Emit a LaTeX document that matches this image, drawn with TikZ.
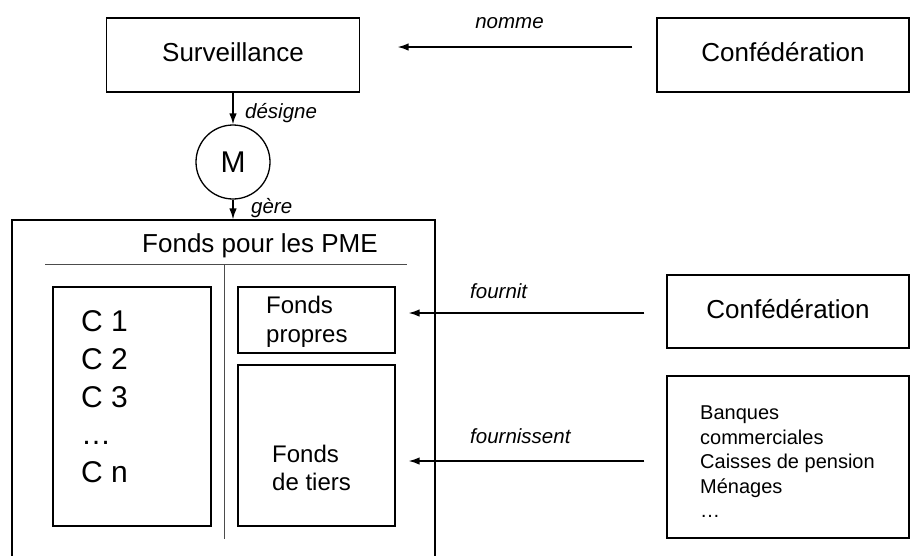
\documentclass[tikz,border=0pt]{standalone}
\usepackage{fontspec}
\setmainfont{Liberation Sans}
\usetikzlibrary{arrows.meta}

\tikzset{
  box/.style={draw, rectangle, line width=1.3pt, inner sep=0pt},
  arr/.style={-{Latex[length=11pt,width=7.5pt]}, line width=1.4pt},
  verb/.style={font=\fontsize{20.5}{24}\selectfont\itshape, inner sep=0pt},
  big/.style={font=\fontsize{26}{31}\selectfont, text height=19pt, text depth=6pt},
  list/.style={inner sep=0pt, align=left, anchor=north west},
}

\begin{document}
\begin{tikzpicture}[x=1pt,y=-1pt]
\useasboundingbox (0,0) rectangle (910,555);
% top row
\node[box, big, minimum width=253pt, minimum height=74pt] (surv) at (233,55) {Surveillance};
\node[box, big, minimum width=252pt, minimum height=74pt] (conf1) at (783,55) {Confédération};
\node[draw, circle, line width=1.3pt, minimum size=74pt, inner sep=0pt, font=\fontsize{30}{36}\selectfont] (mgr) at (233,162) {M};
% fund
\node[box, minimum width=423pt, minimum height=350pt] (fonds) at (223.5,395) {};
\node[anchor=base, inner sep=0pt, font=\fontsize{26}{31}\selectfont] (titre) at (260,252) {Fonds pour les PME};
\draw[line width=0.9pt, gray!60!black] (45,264) -- (407,264);
\draw[line width=0.9pt, gray!60!black] (224,264) -- (224,539);
% inner boxes
\node[box, minimum width=158pt, minimum height=239pt] (cbox) at (132,406.5) {};
\node[box, minimum width=157pt, minimum height=66pt] (propres) at (316.5,320) {};
\node[box, minimum width=157pt, minimum height=161pt] (tiers) at (316.5,445.5) {};
\node[list, font=\fontsize{30}{37.7}\selectfont] (clist) at (81,310.5) {C 1\\C 2\\C 3\\…\\C n};
\node[list, font=\fontsize{24}{29}\selectfont] (lpropres) at (266,295.5) {Fonds\\propres};
\node[list, font=\fontsize{24}{28.5}\selectfont] (ltiers) at (272,444.5) {Fonds\\de tiers};
% right boxes
\node[box, big, minimum width=242pt, minimum height=73pt] (conf2) at (788,311.5) {Confédération};
\node[box, minimum width=242pt, minimum height=162pt] (banks) at (788,457) {};
\node[list, font=\fontsize{20}{24.5}\selectfont] (lbanks) at (700,405.7) {Banques\\commerciales\\Caisses de pension\\Ménages\\…};
% arrows
\draw[arr, shorten <=24pt, shorten >=37.5pt] ([yshift=8pt]conf1.west) -- ([yshift=8pt]surv.east);
\draw[arr] (surv.south) -- (mgr.north);
\draw[arr] (mgr.south) -- (mgr.south |- fonds.north);
\draw[arr, shorten <=22pt, shorten >=13pt] ([yshift=-1.5pt]conf2.west) -- ([yshift=-1.5pt]conf2.west -| propres.east);
\draw[arr, shorten <=22pt, shorten >=13pt] ([yshift=-4pt]banks.west) -- ([yshift=-4pt]banks.west -| tiers.east);
% arrow labels
\node[verb, anchor=base] (lnomme) at (509.5,28) {nomme};
\node[verb, anchor=base west] (ldesigne) at (245,118) {désigne};
\node[verb, anchor=base west] (lgere) at (251,213) {gère};
\node[verb, anchor=base west] (lfournit) at (470,298) {fournit};
\node[verb, anchor=base west] (lfournissent) at (470,443) {fournissent};
\end{tikzpicture}
\end{document}
